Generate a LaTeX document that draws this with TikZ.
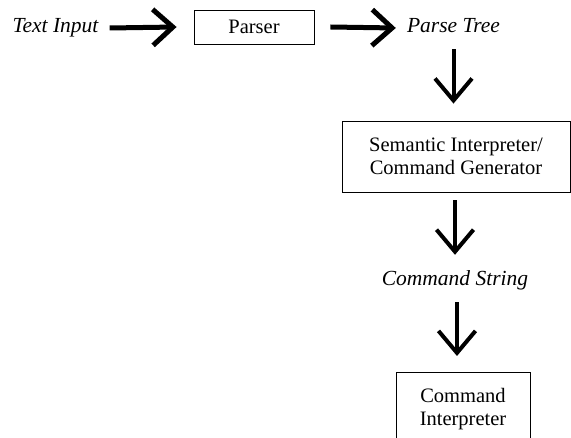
\documentclass[tikz,border=0pt]{standalone}
\usepackage{fontspec}
\setmainfont{Liberation Serif}
\usetikzlibrary{arrows.meta}
\tikzset{
  box/.style={draw, line width=0.8pt, align=center, inner sep=0pt},
  word/.style={font=\fontsize{21.5}{24}\selectfont\itshape, inner sep=4pt, text height=14pt, text depth=4pt},
  harr/.style={line width=5pt, -{Straight Barb[length=20pt,width=36pt]}},
  varr/.style={line width=4pt, -{Straight Barb[length=22pt,width=37pt]}},
}
\begin{document}
\begin{tikzpicture}[x=1pt,y=-1pt,font=\fontsize{20.5}{23}\selectfont]
    \useasboundingbox (0,0) rectangle (571,438);
    \clip (0,0) rectangle (571,438);
    % Top row
    \node[word] (txt) at (55.5,28) {Text Input};
    \node[box, minimum width=120, minimum height=34] (parser) at (254,27) {Parser};
    \node[word] (tree) at (453.5,28) {Parse Tree};
    % Middle
    \node[box, minimum width=228, minimum height=71] (sem) at (456,156.5) {Semantic Interpreter/\\Command Generator};
    \node[word] (cmdstr) at (455,281) {Command String};
    % Bottom box, runs off the page
    \node[box, minimum width=134, minimum height=100, anchor=north] (interp) at (463,372) {};
    \node[align=center] (interplbl) at (463,409) {Command\\Interpreter};
    % Arrows
    \draw[harr] ([xshift=7]txt.east) -- ([xshift=-17]parser.west);
    \draw[harr] ([xshift=16]parser.east) -- ([xshift=-7]tree.west);
    \draw[varr] ([yshift=-8]tree.south) -- ([yshift=17]tree.south |- sem.north);
    \draw[varr] ([yshift=-8]sem.south -| cmdstr) -- ([yshift=13]cmdstr.north);
    \draw[varr] ([xshift=2,yshift=-8]cmdstr.south) -- ([xshift=2,yshift=16]cmdstr.south |- interp.north);
\end{tikzpicture}
\end{document}
